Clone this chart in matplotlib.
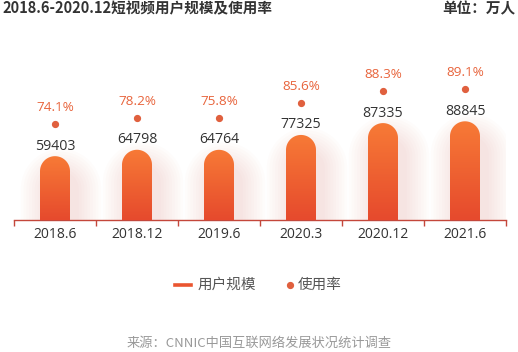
import numpy as np
import matplotlib
matplotlib.use("Agg")
import matplotlib.pyplot as plt
from matplotlib.path import Path
from matplotlib.patches import PathPatch
from matplotlib.lines import Line2D
from matplotlib.colors import LinearSegmentedColormap
import matplotlib.transforms as mtransforms

plt.rcParams['font.family'] = ['Noto Sans CJK SC', 'DejaVu Sans']
NUM_FONT = ['Open Sans', 'DejaVu Sans']

# data
periods = ['2018.6', '2018.12', '2019.6', '2020.3', '2020.12', '2021.6']
users = [59403, 64798, 64764, 77325, 87335, 88845]
rate_labels = ['74.1%', '78.2%', '75.8%', '85.6%', '88.3%', '89.1%']

title = '2018.6-2020.12短视频用户规模及使用率'
unit = '单位：万人'
source = '来源：CNNIC中国互联网络发展状况统计调查'

W, H = 518, 352
fig = plt.figure(figsize=(W / 100, H / 100), dpi=100)
ax_h = 180
ax = fig.add_axes([14 / W, (H - 220) / H, 492 / W, ax_h / H])
y0, y1 = 5500, 157500
ax.set_xlim(-0.5, len(periods) - 0.5)
ax.set_ylim(y0, y1)

px_y = ax_h / (y1 - y0)          # pixels per data unit (y)
px_x = 492 / len(periods)        # pixels per category
hw = 15 / px_x                   # half bar width in data units
r = 15 / px_y                    # cap radius in data units


def bar_path(xc, top, hw, r, bottom, grow=0.0, shift=0.0, drop=0.0):
    hw2 = hw + grow / px_x
    r2 = r + grow / px_y
    xc = xc + shift / px_x
    base = top - r - drop / px_y
    t = np.linspace(0, np.pi, 40)
    xs = xc + hw2 * np.cos(t)
    ys = base + r2 * np.sin(t)
    verts = [(xc + hw2, bottom)] + list(zip(xs, ys)) + [(xc - hw2, bottom), (xc + hw2, bottom)]
    codes = [Path.MOVETO] + [Path.LINETO] * (len(verts) - 2) + [Path.CLOSEPOLY]
    return Path(verts, codes)


cmap = LinearSegmentedColormap.from_list('bar', ['#e64a2d', '#f77a36'])
grad = np.linspace(0, 1, 100).reshape(-1, 1)

for i, v in enumerate(users):
    # soft glow, mostly right and low
    for g in range(1, 10):
        p = bar_path(i, v, hw, r, y0, grow=g * 2.8, shift=6, drop=18)
        ax.add_patch(PathPatch(p, facecolor='#f2917a', edgecolor='none', alpha=0.022, zorder=1))
    p = bar_path(i, v, hw, r, y0)
    patch = PathPatch(p, facecolor='none', edgecolor='none', zorder=3)
    ax.add_patch(patch)
    im = ax.imshow(grad, cmap=cmap, origin='lower', aspect='auto',
                   extent=(i - hw, i + hw, y0, v), zorder=3)
    im.set_clip_path(patch)

# labels and dots
for i, v in enumerate(users):
    tr_dot = mtransforms.offset_copy(ax.transData, fig=fig, x=0, y=32, units='dots')
    ax.plot([i], [v], 'o', color='#e0603e', markersize=4.2, transform=tr_dot, zorder=4, clip_on=False)
    tr_num = mtransforms.offset_copy(ax.transData, fig=fig, x=0, y=10, units='dots')
    ax.text(i, v, str(v), ha='center', va='center', fontsize=10.2, color='#333333',
            family=NUM_FONT, transform=tr_num, zorder=4)
    tr_pct = mtransforms.offset_copy(ax.transData, fig=fig, x=0, y=48.5, units='dots')
    ax.text(i, v, rate_labels[i], ha='center', va='center', fontsize=9.7, color='#e8643c',
            family=NUM_FONT, transform=tr_pct, zorder=4)

ax.set_xlim(-0.5, len(periods) - 0.5)
ax.set_ylim(y0, y1)

for s in ['top', 'left', 'right']:
    ax.spines[s].set_visible(False)
ax.spines['bottom'].set_color('#c4473b')
ax.spines['bottom'].set_linewidth(1.0)
ax.set_yticks([])
ax.set_xticks(np.arange(-0.5, len(periods)), labels=[''] * (len(periods) + 1))
ax.tick_params(axis='x', which='major', length=4, width=1, color='#c4473b')
ax.set_xticks(np.arange(len(periods)), labels=periods, minor=True)
ax.tick_params(axis='x', which='minor', length=0, pad=5, labelsize=10, labelcolor='#333333')
for lab in ax.get_xticklabels(minor=True):
    lab.set_family(NUM_FONT)
ax.patch.set_visible(False)

# titles
fig.text(2 / W, 1 - 8 / H, title, ha='left', va='center', fontsize=10.5,
         fontweight='bold', color='#333333')
fig.text(515 / W, 1 - 8 / H, unit, ha='right', va='center', fontsize=10.5,
         fontweight='bold', color='#333333')

# legend
ly = 1 - 285 / H
fig.add_artist(Line2D([175 / W, 191 / W], [ly, ly], color='#ea5530', lw=2.6))
fig.text(198 / W, ly, '用户规模', ha='left', va='center', fontsize=10.5, color='#555555')
fig.add_artist(Line2D([290 / W], [ly], marker='o', color='#e0603e', markersize=4.2, lw=0))
fig.text(298 / W, ly, '使用率', ha='left', va='center', fontsize=10.5, color='#555555')

# source
fig.text(0.5, 1 - 343 / H, source, ha='center', va='center', fontsize=9.5, color='#999999')

fig.savefig('out.png', dpi=100)
